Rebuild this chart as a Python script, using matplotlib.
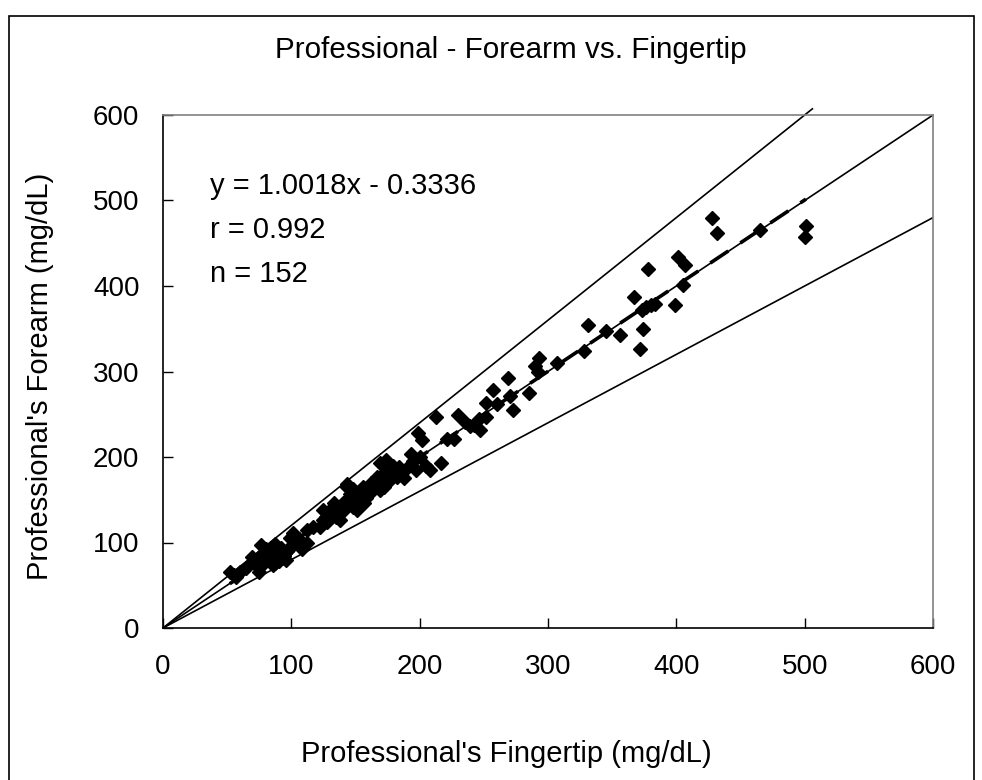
import matplotlib.pyplot as plt
from matplotlib.patches import Rectangle

plt.rcParams['font.family'] = ['Liberation Sans', 'DejaVu Sans']

# fingertip (x) and forearm (y) readings, mg/dL
fingertip = [52, 55, 57, 69, 70, 73, 75, 76, 78, 79, 80, 81, 82, 83, 84, 85, 86, 87, 88, 89,
             90, 91, 92, 93, 95, 97, 99, 100, 101, 102, 104, 106, 109, 112, 108, 96, 74, 65, 60, 86,
             112, 117, 122, 125, 125, 127, 128, 130, 133, 135, 138, 140, 141, 143, 143, 143, 146, 148, 148, 151,
             151, 151, 153, 156, 157, 156, 160, 161, 164, 164, 166, 167, 169, 169, 172, 172, 174, 174, 175, 177,
             179, 180, 182, 185, 188, 190, 193, 195, 197, 199, 200, 202,
             205, 208, 213, 217, 221, 227, 230, 235, 239, 242, 247, 252, 252, 257, 260, 269, 270, 273, 285, 290,
             293, 292, 307,
             328, 331, 345, 356, 372, 374, 367, 373, 376, 380, 383, 399, 378, 401, 407, 405, 428, 432, 465, 501,
             500,
             80, 83, 87, 92, 94, 98, 130, 136, 145, 158, 162, 170, 176, 184, 196, 246]
forearm = [66, 62, 60, 83, 78, 72, 66, 97, 88, 76, 92, 82, 86, 78, 94, 88, 80, 98, 84, 91,
           78, 86, 94, 82, 88, 90, 105, 96, 111, 100, 99, 104, 95, 99, 92, 80, 80, 70, 65, 74,
           115, 118, 118, 126, 138, 130, 124, 138, 146, 130, 126, 146, 138, 150, 165, 169, 157, 142, 163, 154,
           138, 156, 150, 161, 146, 165, 158, 158, 165, 167, 169, 177, 161, 193, 181, 165, 196, 189, 176, 173,
           189, 185, 177, 182, 175, 187, 204, 195, 185, 228, 200, 220,
           190, 185, 247, 193, 221, 221, 249, 241, 236, 238, 232, 263, 247, 278, 262, 292, 271, 255, 275, 306,
           316, 300, 310,
           324, 354, 347, 343, 326, 350, 387, 372, 376, 378, 379, 378, 420, 434, 425, 401, 480, 462, 465, 470,
           457,
           84, 90, 76, 88, 84, 92, 132, 140, 152, 152, 170, 172, 182, 188, 198, 244]

slope = 1.0018
intercept = -0.3336
ticks = [0, 100, 200, 300, 400, 500, 600]

fig = plt.figure(figsize=(9.82, 7.8), dpi=100)
ax = fig.add_axes([163 / 982, 1 - 628 / 780, 770 / 982, 513 / 780])

# outer chart frame
fig.patches.append(Rectangle((9 / 982, -0.01), 965 / 982, 1 - 16 / 780 + 0.01,
                             transform=fig.transFigure, fill=False, edgecolor='black', lw=1.2))

# reference lines y = x, 1.2x, 0.8x
ax.plot([0, 600], [0, 600], color='black', lw=1.2)
ax.plot([0, 506], [0, 607.2], color='black', lw=1.2, clip_on=False)
ax.plot([0, 600], [0, 480], color='black', lw=1.2)

ax.plot(fingertip, forearm, linestyle='none', marker='D', ms=7.4, color='black')

xmin, xmax = min(fingertip), max(fingertip)
ax.plot([xmin, xmax], [slope * xmin + intercept, slope * xmax + intercept],
        color='black', lw=2.6, dashes=(6, 4))

ax.set_xlim(0, 600)
ax.set_ylim(0, 600)
ax.set_xticks(ticks)
ax.set_yticks(ticks)
ax.tick_params(direction='in', length=7, width=1, labelsize=20, colors='black')
ax.tick_params(axis='x', pad=19)
ax.tick_params(axis='y', pad=17)
for s in ['top', 'right']:
    ax.spines[s].set_color('#808080')
for s in ['left', 'bottom']:
    ax.spines[s].set_color('black')
for s in ax.spines.values():
    s.set_linewidth(1.2)

ax.text(0.061, 0.862, 'y = 1.0018x - 0.3336', transform=ax.transAxes, fontsize=21, va='center')
ax.text(0.061, 0.776, 'r = 0.992', transform=ax.transAxes, fontsize=21, va='center')
ax.text(0.061, 0.690, 'n = 152', transform=ax.transAxes, fontsize=21, va='center')

fig.text(511 / 982, 1 - 50 / 780, 'Professional - Forearm vs. Fingertip', ha='center', va='center', fontsize=21.3)
fig.text(506 / 982, 1 - 754 / 780, "Professional's Fingertip (mg/dL)", ha='center', va='center', fontsize=21)
fig.text(40 / 982, 1 - 376 / 780, "Professional's Forearm (mg/dL)", ha='center', va='center',
         fontsize=21, rotation=90)

fig.savefig('out.png', dpi=100)
